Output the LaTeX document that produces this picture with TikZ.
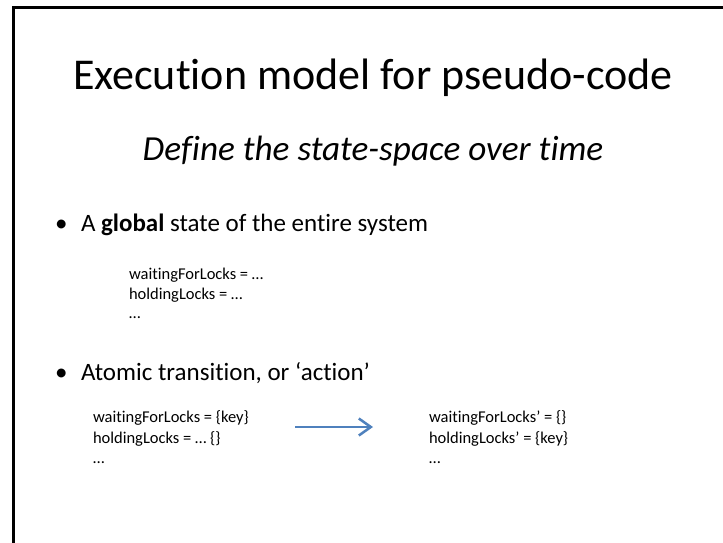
\documentclass[tikz,border=0pt]{standalone}
\usepackage{fontspec}
\setmainfont{Carlito}[Ligatures=NoCommon]
\usetikzlibrary{arrows.meta}
\definecolor{accentblue}{HTML}{4F81BD}
\begin{document}
\begin{tikzpicture}[x=1pt,y=-1pt,
  txt/.style={inner sep=0pt, outer sep=0pt, anchor=base west},
  titletext/.style={inner sep=0pt, outer sep=0pt, anchor=base, font=\fontsize{44}{53}\selectfont},
  subtitletext/.style={inner sep=0pt, outer sep=0pt, anchor=base, font=\fontsize{35.2}{42}\selectfont\itshape},
  bullettext/.style={txt, font=\fontsize{25}{30}\selectfont},
  codetext/.style={txt, font=\fontsize{16.5}{20}\selectfont},
  frameline/.style={line width=2.7pt, black},
  transition/.style={line width=2.5pt, accentblue, -{Straight Barb[length=12pt,width=17pt,line width=2.5pt]}}
]
\useasboundingbox (0,0) rectangle (723,543);
\fill[white] (0,0) rectangle (723,543);

% slide frame: left and top edges
\draw[frameline] (13.3,543) -- (13.3,7.3) -- (723,7.3);

% headings
\node[titletext] (title) at (373,89) {Execution model for pseudo-code};
\node[subtitletext] (subtitle) at (373,160) {Define the state-space over time};

% first bullet: global state
\node[bullettext] (dot1) at (55,231) {•};
\node[bullettext] (item1) at (81,231) {A \textbf{global} state of the entire system};
\node[codetext] (g1) at (129,279) {waitingForLocks = …};
\node[codetext] (g2) at (129,299) {holdingLocks = …};
\node[codetext] (g3) at (129,318) {…};

% second bullet: atomic transition
\node[bullettext] (dot2) at (55,380) {•};
\node[bullettext] (item2) at (81,380) {Atomic transition, or ‘action’};

% state before the action
\node[codetext] (pre1) at (93,422) {waitingForLocks = \{key\}};
\node[codetext] (pre2) at (93,443) {holdingLocks = … \{\}};
\node[codetext] (pre3) at (93,463) {…};

% state after the action
\node[codetext] (post1) at (429,422) {waitingForLocks’ = \{\}};
\node[codetext] (post2) at (429,443) {holdingLocks’ = \{key\}};
\node[codetext] (post3) at (429,463) {…};

% the transition arrow
\coordinate (arrowstart) at (295,427);
\coordinate (arrowend) at (373,427);
\draw[transition] (arrowstart) -- (arrowend);
\end{tikzpicture}
\end{document}
